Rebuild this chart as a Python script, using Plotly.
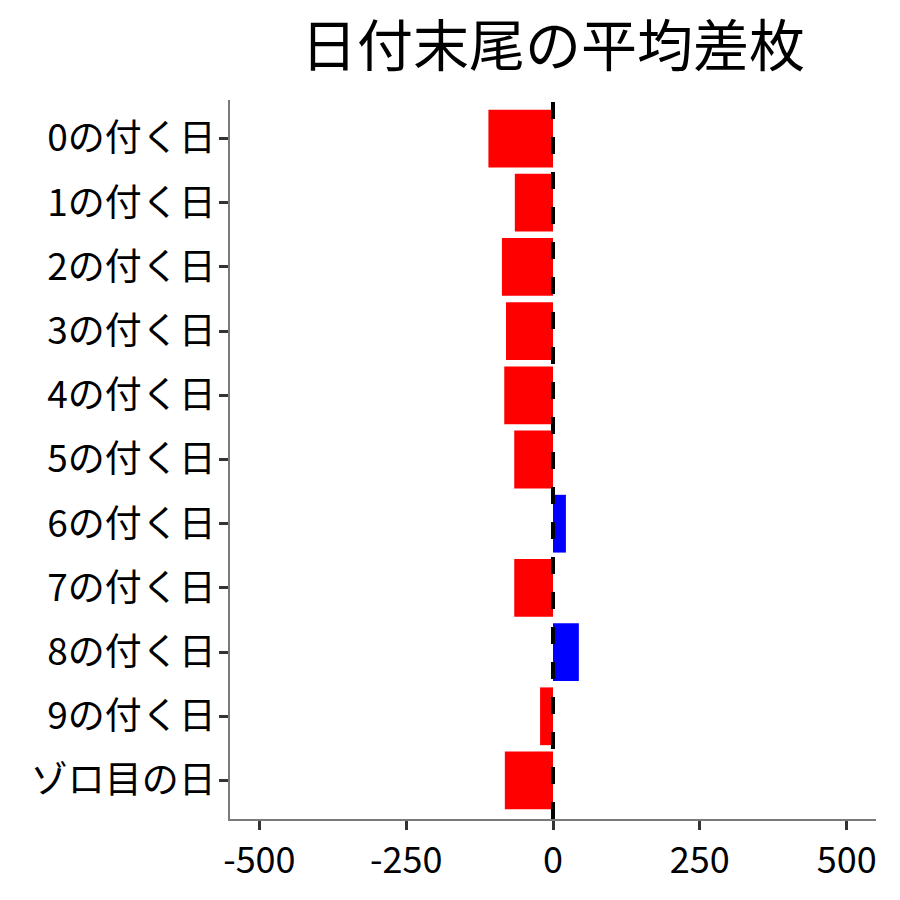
import plotly.graph_objects as go

# 日付末尾ごとの平均差枚
labels = ["0の付く日", "1の付く日", "2の付く日", "3の付く日", "4の付く日",
          "5の付く日", "6の付く日", "7の付く日", "8の付く日", "9の付く日", "ゾロ目の日"]
avg_diff = [-110, -65, -87, -80, -83, -66, 22, -66, 44, -22, -82]
x_ticks = [-500, -250, 0, 250, 500]
x_ticktext = ["-500", "-250", "0", "250", "500"]

colors = ["blue" if v > 0 else "red" for v in avg_diff]
font_jp = "Noto Sans CJK JP"

fig = go.Figure()
fig.add_trace(go.Bar(
    x=avg_diff,
    y=labels,
    orientation="h",
    width=0.9,
    marker=dict(color=colors, line=dict(width=0)),
    showlegend=False,
))

# 0 の破線
fig.add_shape(type="line", xref="x", yref="paper", x0=0, x1=0, y0=0, y1=1,
              line=dict(color="black", width=4, dash="17px,18px"))

fig.update_layout(
    width=900, height=900,
    margin=dict(l=222, r=32, t=92, b=89),
    plot_bgcolor="white", paper_bgcolor="white",
    font=dict(family=font_jp, color="black"),
    title=dict(text="日付末尾の平均差枚", x=0.5, xref="paper", y=0.957, yanchor="middle",
               font=dict(size=56, family=font_jp, color="black")),
    bargap=0.1,
)
fig.update_xaxes(
    range=[-550, 550], tickvals=x_ticks, ticktext=x_ticktext,
    showgrid=False, zeroline=False, automargin=False,
    showline=True, linecolor="#7a7a7a", linewidth=1.5,
    ticks="outside", ticklen=9, tickwidth=2.5, tickcolor="#333333",
    tickfont=dict(size=36, family=font_jp, color="black"),
)
fig.update_yaxes(
    categoryorder="array", categoryarray=labels[::-1],
    range=[-0.6, 10.6],
    showgrid=False, zeroline=False, automargin=False,
    showline=True, linecolor="#7a7a7a", linewidth=1.5,
    ticks="outside", ticklen=9, tickwidth=2.5, tickcolor="#333333",
    ticklabelstandoff=-4,
    tickfont=dict(size=37, family=font_jp, color="black"),
)

fig.write_html("out.html")
